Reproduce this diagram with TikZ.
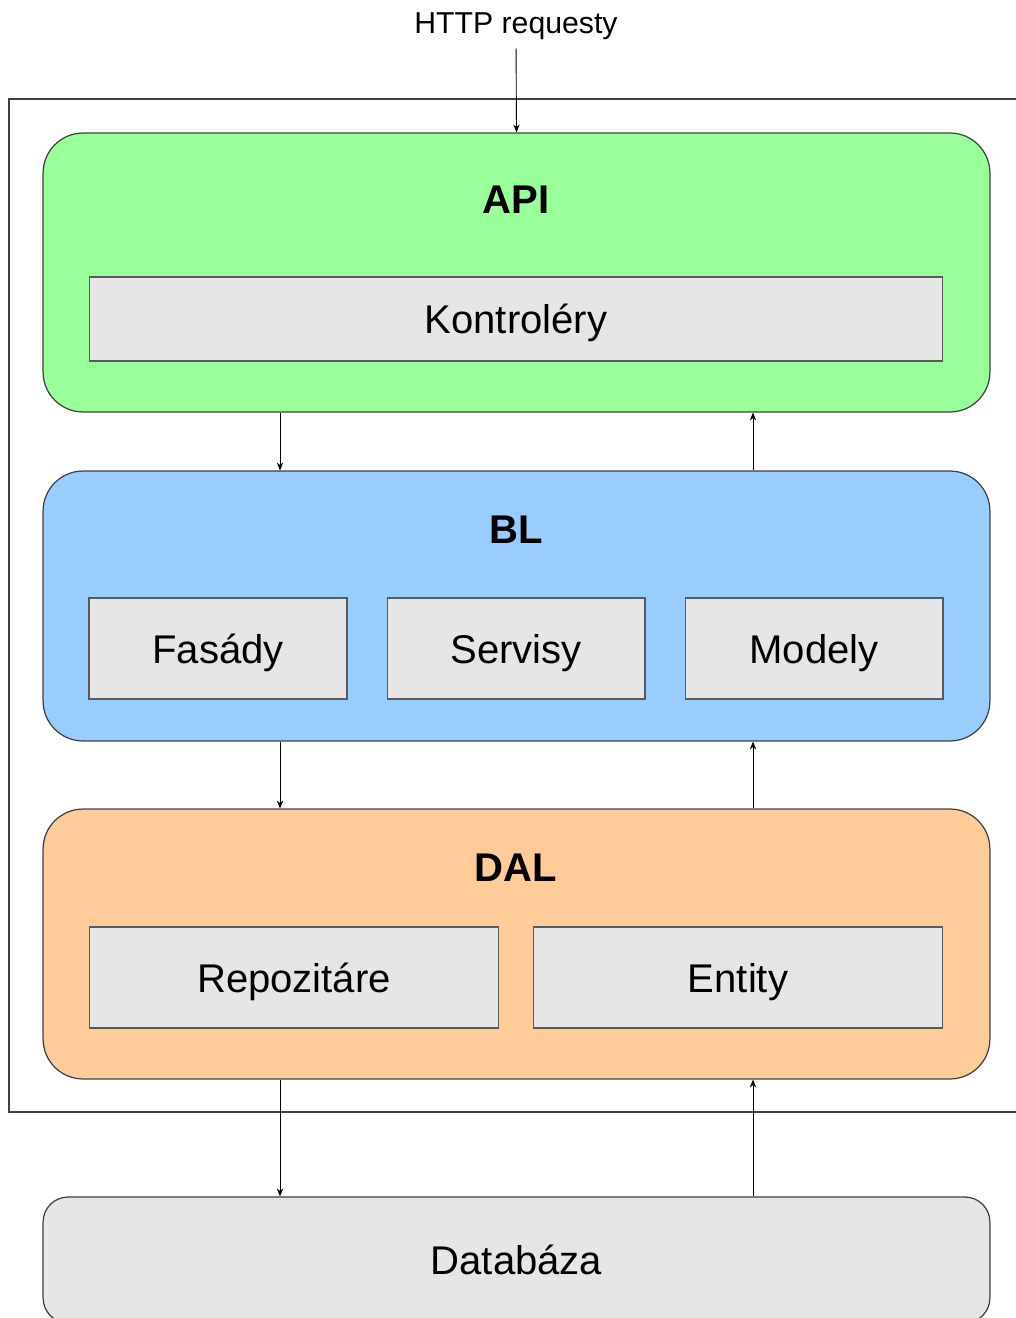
\documentclass[tikz,border=0pt]{standalone}
\usepackage{fontspec}
\setmainfont{Liberation Sans}
\usetikzlibrary{arrows.meta}
\definecolor{apigreen}{HTML}{99FF99}
\definecolor{blblue}{HTML}{99CCFF}
\definecolor{dalorange}{HTML}{FFCC99}
\definecolor{boxgray}{HTML}{E6E6E6}
\tikzset{
  layer/.style={draw=black!75, line width=0.7pt, rounded corners=0.8cm, minimum width=18.94cm},
  part/.style={draw=black!65, line width=0.6pt, fill=boxgray, text depth=0pt, font=\fontsize{22.8}{26}\selectfont},
  title/.style={font=\fontsize{22.8}{26}\selectfont\bfseries},
  conn/.style={line width=0.5pt, -{Stealth[length=4.5pt,width=3.6pt]}}
}
\begin{document}
\begin{tikzpicture}[x=0.02cm,y=-0.02cm]
\useasboundingbox (0,0) rectangle (1016,1318);
\draw[line width=0.6pt, black!75] (9,99) rectangle (1040,1112); %app frame

% layers
\node[layer, fill=apigreen, minimum height=5.58cm] (api) at (516.5,272.5) {};
\node[layer, fill=blblue, minimum height=5.4cm] (bl) at (516.5,606) {};
\node[layer, fill=dalorange, minimum height=5.4cm] (dal) at (516.5,944) {};
\node[layer, fill=boxgray, rounded corners=0.5cm, minimum height=2.52cm,
      font=\fontsize{22.8}{26}\selectfont] (db) at (516.5,1260) {Databáza};

\node[title] (apit) at (516,200) {API};
\node[title] (blt) at (516,530) {BL};
\node[title] (dalt) at (516,868) {DAL};

% parts
\node[part, minimum width=17.08cm, minimum height=1.68cm] (ctrl) at (516,319) {Kontroléry};
\node[part, minimum width=5.16cm, minimum height=2.02cm] (fas) at (218,648.5) {Fasády};
\node[part, minimum width=5.16cm, minimum height=2.02cm] (serv) at (516,648.5) {Servisy};
\node[part, minimum width=5.16cm, minimum height=2.02cm] (mod) at (814,648.5) {Modely};
\node[part, minimum width=8.2cm, minimum height=2.02cm] (repo) at (294,977.5) {Repozitáre};
\node[part, minimum width=8.2cm, minimum height=2.02cm] (ent) at (738,977.5) {Entity};

% requests
\node[text depth=0pt, font=\fontsize{17.2}{20}\selectfont] (http) at (516,23) {HTTP requesty};
\draw[conn, shorten <=5pt] (http.south) -- (api.north);

\coordinate (dn) at (280,0);
\coordinate (up) at (753,0);
\draw[conn] (api.south -| dn) -- (bl.north -| dn);
\draw[conn] (bl.north -| up) -- (api.south -| up);
\draw[conn] (bl.south -| dn) -- (dal.north -| dn);
\draw[conn] (dal.north -| up) -- (bl.south -| up);
\draw[conn] (dal.south -| dn) -- (db.north -| dn);
\draw[conn] (db.north -| up) -- (dal.south -| up);
\end{tikzpicture}
\end{document}
